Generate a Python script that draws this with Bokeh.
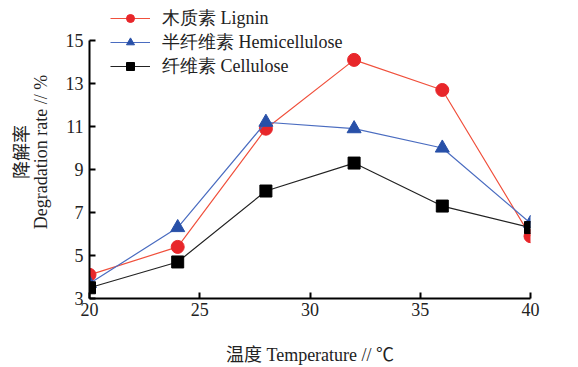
from bokeh.plotting import figure
from bokeh.models import Legend, LegendItem, FixedTicker, Range1d
from bokeh.embed import file_html
from bokeh.resources import INLINE

temps = [20, 24, 28, 32, 36, 40]
lignin = [4.1, 5.4, 10.9, 14.1, 12.7, 5.9]
hemicellulose = [3.7, 6.3, 11.2, 10.9, 10.0, 6.5]
cellulose = [3.5, 4.7, 8.0, 9.3, 7.3, 6.3]
x_ticks = [20, 25, 30, 35, 40]
y_ticks = [3, 5, 7, 9, 11, 13, 15]
labels = ["木质素 Lignin", "半纤维素 Hemicellulose", "纤维素 Cellulose"]

FONT = "Liberation Serif, Noto Sans CJK SC"

# frame from y=3 (bottom) up past 15 so the legend above the axis is not clipped
y_top = 15 + 36 / 22.08

p = figure(width=578, height=367, output_backend="svg", toolbar_location=None,
           x_range=Range1d(20, 40), y_range=Range1d(3, y_top),
           min_border_left=89, min_border_right=48, min_border_top=5, min_border_bottom=61)
p.outline_line_color = None
p.grid.visible = False
p.background_fill_color = "white"

r1l = p.line(temps, lignin, line_color="#f0503c", line_width=1.2)
r1m = p.scatter(temps, lignin, marker="circle", size=13, fill_color="#e8262a", line_color="#e8262a")
r2l = p.line(temps, hemicellulose, line_color="#4a6cc0", line_width=1.2)
r2m = p.scatter(temps, hemicellulose, marker="triangle", size=14, fill_color="#2850a8", line_color="#2850a8")
r3l = p.line(temps, cellulose, line_color="#222222", line_width=1.2)
r3m = p.scatter(temps, cellulose, marker="square", size=12, fill_color="black", line_color="black")

for ax in (p.xaxis[0], p.yaxis[0]):
    ax.axis_line_width = 2
    ax.axis_line_color = "black"
    ax.major_tick_in = 6
    ax.major_tick_out = 0
    ax.major_tick_line_width = 2
    ax.minor_tick_line_color = None
    ax.major_label_text_font = FONT
    ax.major_label_text_font_size = "18px"
    ax.major_label_text_color = "#222222"
    ax.axis_label_text_font = FONT
    ax.axis_label_text_font_size = "18px"
    ax.axis_label_text_font_style = "normal"
    ax.axis_label_text_color = "#222222"
    ax.axis_label_text_line_height = 0.95

p.xaxis[0].ticker = FixedTicker(ticks=x_ticks)
p.yaxis[0].ticker = FixedTicker(ticks=y_ticks)
p.yaxis[0].bounds = (3, 15)
p.xaxis[0].axis_label = "温度 Temperature // ℃"
p.yaxis[0].axis_label = "降解率\nDegradation rate // %"
p.xaxis[0].axis_label_standoff = 26
p.yaxis[0].axis_label_standoff = 12
p.xaxis[0].major_label_standoff = 4
p.yaxis[0].major_label_standoff = 6

legend = Legend(items=[LegendItem(label=labels[0], renderers=[r1l, r1m]),
                       LegendItem(label=labels[1], renderers=[r2l, r2m]),
                       LegendItem(label=labels[2], renderers=[r3l, r3m])],
                location=(21, 220), padding=0, margin=0, spacing=0,
                glyph_width=40, glyph_height=20, label_height=20,
                label_standoff=12,
                label_text_font="Liberation Serif", label_text_font_size="18px",
                label_text_line_height=1.0,
                label_text_color="#222222",
                border_line_color=None, background_fill_alpha=0)
p.add_layout(legend, "center")

open("out.html", "w").write(file_html(p, INLINE))
